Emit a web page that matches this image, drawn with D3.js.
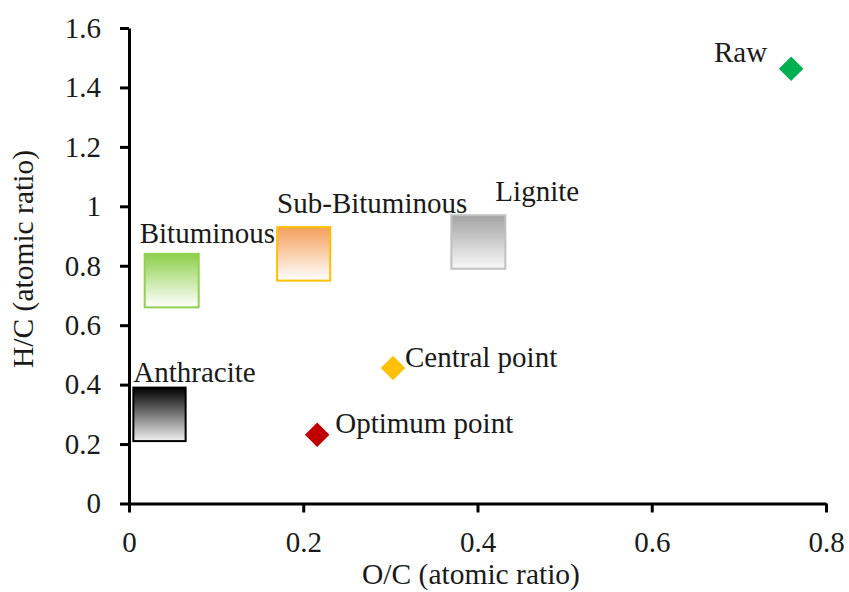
<!DOCTYPE html>
<html>
<head>
<meta charset="utf-8">
<script src="https://cdn.jsdelivr.net/npm/d3@7"></script>
<style>
  body { margin: 0; background: #fff; }
  text { font-family: "Liberation Serif", "Times New Roman", serif; fill: #1a1a1a; }
</style>
</head>
<body>
<div id="chart"></div>
<script>
// coal rank regions (O/C and H/C ranges)
var rankNames = ["Anthracite", "Bituminous", "Sub-Bituminous", "Lignite"];
var rankX0 = [0.005, 0.018, 0.170, 0.370];
var rankX1 = [0.065, 0.080, 0.231, 0.432];
var rankY0 = [0.21, 0.66, 0.75, 0.79];
var rankY1 = [0.39, 0.84, 0.93, 0.97];

// samples
var pointNames = ["Raw", "Central point", "Optimum point"];
var pointX = [0.760, 0.303, 0.216];
var pointY = [1.463, 0.456, 0.231];

var xTicks = [0, 0.2, 0.4, 0.6, 0.8];
var yTicks = [0, 0.2, 0.4, 0.6, 0.8, 1, 1.2, 1.4, 1.6];

// styles
var rankStyle = {
  "Anthracite":     { top: "#000000", bottom: "#f0f0f0", stroke: "#000000", dx: 0,  dy: -6 },
  "Bituminous":     { top: "#8dcf4a", bottom: "#ffffff", stroke: "#92d050", dx: -5, dy: -11 },
  "Sub-Bituminous": { top: "#f5a05a", bottom: "#ffffff", stroke: "#ffc000", dx: 0,  dy: -14 },
  "Lignite":        { top: "#a3a3a3", bottom: "#f8f8f8", stroke: "#c0c0c0", dx: 44, dy: -14 }
};
var pointStyle = {
  "Raw":           { color: "#00b050", dx: -24, dy: -7, anchor: "end" },
  "Central point": { color: "#ffc000", dx: 12,  dy: -1, anchor: "start" },
  "Optimum point": { color: "#c00000", dx: 18,  dy: -2, anchor: "start" }
};

var width = 849, height = 592;
var margin = { left: 129, right: 23, top: 28, bottom: 88.5 };

var svg = d3.select("#chart").append("svg")
  .attr("width", width)
  .attr("height", height);

var x = d3.scaleLinear().domain([0, 0.8]).range([margin.left, width - margin.right]);
var y = d3.scaleLinear().domain([0, 1.6]).range([height - margin.bottom, margin.top]);

// gradients
var defs = svg.append("defs");
rankNames.forEach(function (n, i) {
  var g = defs.append("linearGradient")
    .attr("id", "grad" + i)
    .attr("x1", 0).attr("y1", 0).attr("x2", 0).attr("y2", 1);
  g.append("stop").attr("offset", "0%").attr("stop-color", rankStyle[n].top);
  g.append("stop").attr("offset", "100%").attr("stop-color", rankStyle[n].bottom);
});

var fmt = function (d) { return String(+d.toFixed(1)); };

// axes
var xAxis = svg.append("g")
  .attr("transform", "translate(0," + y(0) + ")")
  .call(d3.axisBottom(x).tickValues(xTicks).tickSize(9).tickSizeOuter(0).tickPadding(19).tickFormat(fmt));
var yAxis = svg.append("g")
  .attr("transform", "translate(" + x(0) + ",0)")
  .call(d3.axisLeft(y).tickValues(yTicks).tickSize(9).tickSizeOuter(0).tickPadding(19).tickFormat(fmt));

[xAxis, yAxis].forEach(function (a) {
  a.select(".domain").attr("stroke", "#000").attr("stroke-width", 3);
  a.selectAll(".tick line").attr("stroke", "#000").attr("stroke-width", 3);
  a.selectAll(".tick text")
    .attr("fill", "#1a1a1a")
    .style("font-family", "'Liberation Serif', serif")
    .style("font-size", "29px");
});

// axis titles
svg.append("text")
  .attr("x", 471)
  .attr("y", 584)
  .attr("text-anchor", "middle")
  .style("font-size", "29.5px")
  .text("O/C (atomic ratio)");

svg.append("text")
  .attr("transform", "translate(33,259) rotate(-90)")
  .attr("text-anchor", "middle")
  .style("font-size", "29.5px")
  .text("H/C (atomic ratio)");

// rank boxes
svg.selectAll("rect.rank")
  .data(rankNames)
  .enter()
  .append("rect")
    .attr("class", "rank")
    .attr("x", function (d, i) { return x(rankX0[i]); })
    .attr("y", function (d, i) { return y(rankY1[i]); })
    .attr("width", function (d, i) { return x(rankX1[i]) - x(rankX0[i]); })
    .attr("height", function (d, i) { return y(rankY0[i]) - y(rankY1[i]); })
    .attr("fill", function (d, i) { return "url(#grad" + i + ")"; })
    .attr("stroke", function (d) { return rankStyle[d].stroke; })
    .attr("stroke-width", 2);

svg.selectAll("text.rank")
  .data(rankNames)
  .enter()
  .append("text")
    .attr("class", "rank")
    .attr("x", function (d, i) { return x(rankX0[i]) + rankStyle[d].dx; })
    .attr("y", function (d, i) { return y(rankY1[i]) + rankStyle[d].dy; })
    .style("font-size", "29px")
    .text(function (d) { return d; });

// sample points (diamonds)
var diamond = d3.symbol().type(d3.symbolSquare).size(300);
svg.selectAll("path.pt")
  .data(pointNames)
  .enter()
  .append("path")
    .attr("class", "pt")
    .attr("d", diamond)
    .attr("transform", function (d, i) {
      return "translate(" + x(pointX[i]) + "," + y(pointY[i]) + ") rotate(45)";
    })
    .attr("fill", function (d) { return pointStyle[d].color; });

svg.selectAll("text.pt")
  .data(pointNames)
  .enter()
  .append("text")
    .attr("class", "pt")
    .attr("x", function (d, i) { return x(pointX[i]) + pointStyle[d].dx; })
    .attr("y", function (d, i) { return y(pointY[i]) + pointStyle[d].dy; })
    .attr("text-anchor", function (d) { return pointStyle[d].anchor; })
    .style("font-size", "29px")
    .text(function (d) { return d; });
</script>
</body>
</html>
